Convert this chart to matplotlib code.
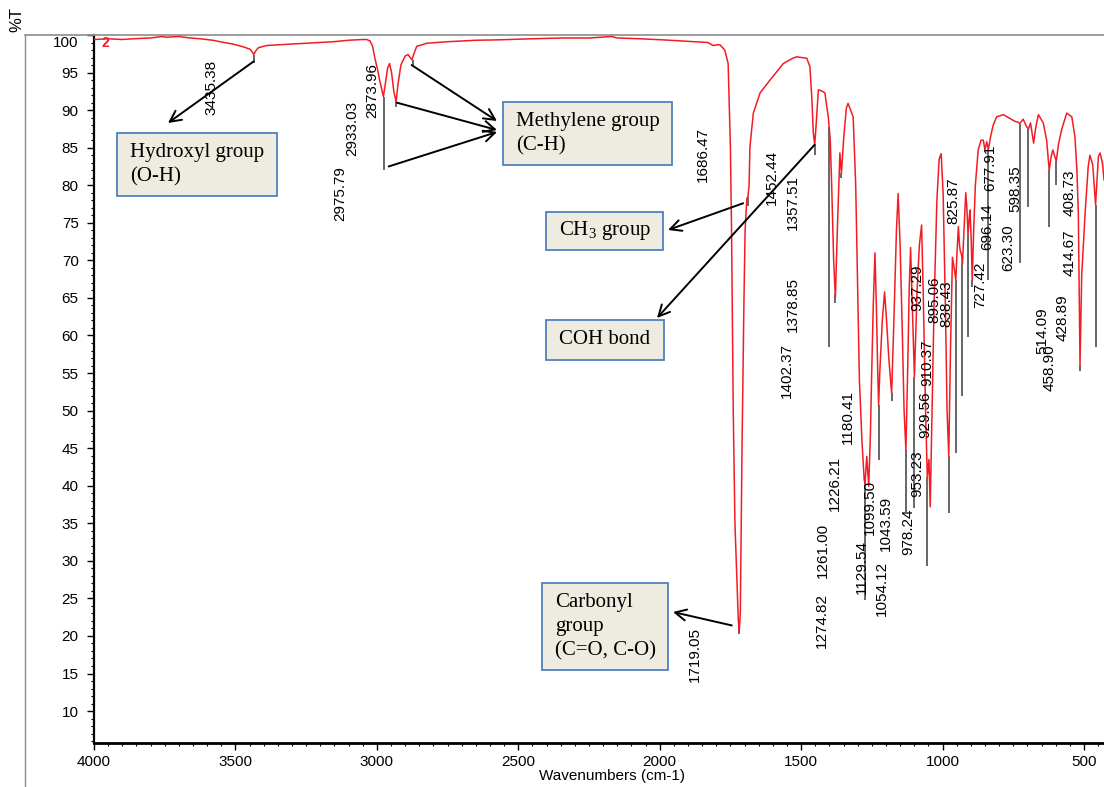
import numpy as np
import matplotlib
matplotlib.use('Agg')
import matplotlib.pyplot as plt
import matplotlib.transforms as mtransforms
from matplotlib.patches import Rectangle
from matplotlib.lines import Line2D
from matplotlib.ticker import MultipleLocator

plt.rcParams['font.family'] = ['Liberation Sans', 'DejaVu Sans']
plt.rcParams['mathtext.fontset'] = 'custom'
plt.rcParams['mathtext.rm'] = 'Liberation Serif'

# 1. SPECTRUM: wavenumber (cm-1) and %T
wavenumber = [4000, 3950, 3900, 3862, 3800, 3760, 3743, 3700, 3660, 3625, 3580, 3540,
              3509, 3470, 3448, 3440, 3435, 3428, 3419, 3400, 3389, 3300, 3200, 3155,
              3100, 3050, 3036, 3024, 3015, 3007, 2998, 2989, 2983, 2977, 2970, 2962,
              2955, 2948, 2940, 2932, 2925, 2915, 2900, 2890, 2882, 2876, 2868, 2859,
              2840, 2824, 2753, 2650, 2576, 2450, 2342, 2250, 2170, 2150, 2070, 1988,
              1920, 1869, 1830, 1811, 1795, 1787, 1770, 1758, 1750, 1746, 1740, 1734,
              1722, 1719, 1715, 1709, 1702, 1698, 1692, 1688, 1684, 1681, 1669, 1645,
              1610, 1563, 1530, 1516, 1480, 1469, 1462, 1457, 1452, 1447, 1439, 1430,
              1416, 1404, 1397, 1392, 1385, 1379, 1372, 1363, 1357.5, 1349, 1340, 1334,
              1325, 1316, 1307, 1300, 1294, 1285, 1277, 1274, 1268, 1261, 1255, 1251,
              1245, 1239, 1234, 1229, 1226, 1222, 1213, 1205, 1198, 1190, 1180, 1172,
              1163, 1157, 1150, 1142, 1136, 1129.5, 1123, 1118, 1113, 1107, 1099.5, 1090,
              1082, 1074, 1068, 1060, 1054, 1048, 1043.6, 1038, 1030, 1020, 1012, 1005,
              998, 990, 984, 978, 972, 965, 959, 953, 949, 944, 940, 937,
              933, 929.6, 924, 918, 914, 910, 906, 903, 899, 895, 890, 884,
              874, 864, 856, 850, 844, 838, 830, 821, 809, 785, 762, 744,
              733, 727, 715, 703, 696, 689, 678, 670, 661, 644, 632, 623,
              616, 610, 598, 590, 579, 561, 543, 532, 525, 520, 514, 508,
              496, 485, 479, 469, 459, 449, 443, 435, 429]
transmittance = [99.4, 99.5, 99.4, 99.5, 99.6, 99.8, 99.7, 99.8, 99.6, 99.5, 99.3, 99.0,
                 98.8, 98.4, 98.1, 97.7, 97.4, 97.9, 98.3, 98.5, 98.6, 98.8, 99.0, 99.1,
                 99.3, 99.4, 99.4, 99.2, 98.5, 96.9, 95.5, 93.8, 92.8, 91.8, 93.5, 95.6,
                 96.2, 95.0, 92.5, 91.1, 93.5, 96.0, 97.2, 97.4, 97.0, 96.7, 97.6, 98.5,
                 98.7, 98.9, 99.1, 99.3, 99.35, 99.5, 99.6, 99.6, 99.8, 99.6, 99.5, 99.35,
                 99.2, 99.1, 99.0, 98.6, 98.7, 98.7, 98.0, 96.2, 85.0, 74.0, 50.0, 35.0,
                 22.0, 20.6, 23.0, 45.0, 65.0, 74.0, 78.2, 78.5, 80.0, 85.1, 89.6, 92.3,
                 94.0, 96.2, 96.9, 97.1, 96.9, 95.8, 91.5, 87.0, 85.4, 88.0, 92.7, 92.6,
                 92.3, 89.1, 86.0, 80.0, 70.0, 65.0, 74.0, 84.3, 81.6, 86.5, 90.3, 90.9,
                 90.0, 89.1, 80.0, 66.0, 54.1, 46.0, 40.8, 40.3, 43.9, 39.9, 47.0, 54.1,
                 64.0, 71.0, 64.0, 55.0, 50.7, 55.0, 62.0, 65.8, 62.0, 57.0, 52.3, 62.0,
                 74.0, 78.9, 72.0, 60.0, 50.0, 44.7, 56.0, 66.0, 71.7, 64.0, 54.5, 66.0,
                 72.0, 74.7, 65.0, 50.0, 41.2, 43.5, 37.2, 48.0, 64.0, 78.0, 83.5, 84.2,
                 79.0, 64.0, 50.0, 43.9, 58.0, 70.4, 69.0, 67.4, 71.0, 74.5, 72.0, 71.2,
                 70.8, 69.6, 74.0, 79.0, 77.0, 73.4, 75.5, 76.7, 73.0, 67.4, 74.0, 80.0,
                 84.7, 86.0, 86.0, 84.7, 85.8, 84.8, 86.5, 88.0, 89.1, 89.4, 88.9, 88.5,
                 88.4, 88.2, 88.8, 87.8, 87.5, 88.3, 85.6, 87.8, 89.4, 88.3, 86.0, 82.0,
                 83.8, 84.7, 83.2, 85.5, 87.4, 89.6, 89.1, 86.5, 82.0, 76.3, 56.1, 68.0,
                 76.3, 82.5, 84.0, 82.7, 77.4, 83.8, 84.3, 83.0, 80.7]

# peak marker lines: wavenumber, top %T, bottom %T
marker_wn = [3435.38, 2975.79, 2933.03, 2873.96, 1719.05, 1686.47, 1452.44, 1402.37,
             1378.85, 1357.51, 1274.82, 1226.21, 1180.41, 1129.54, 1099.50, 1054.12,
             978.24, 953.23, 929.56, 910.37, 895.06, 838.43, 727.42, 696.14, 623.30,
             598.35, 514.09, 458.90]
marker_top = [97.4, 91.8, 91.1, 96.7, 21.0, 78.5, 85.4, 87.8, 65.5, 81.6, 40.4, 50.7,
              52.3, 44.7, 54.5, 41.2, 43.9, 67.4, 69.6, 73.4, 67.4, 84.8, 88.2, 87.5,
              82.0, 83.2, 56.1, 77.4]
marker_bottom = [96.3, 82.0, 90.4, 96.0, 20.2, 77.3, 84.0, 58.5, 64.3, 81.0, 24.8, 43.4,
                 51.3, 36.5, 37.0, 29.3, 36.4, 44.4, 52.0, 59.8, 66.5, 67.4, 69.6, 77.1,
                 74.5, 80.0, 55.3, 58.5]

# peak label texts and where they sit on the picture (pixel centre)
peak_labels = ['3435.38', '2975.79', '2933.03', '2873.96', '1686.47', '1452.44', '1357.51',
               '1378.85', '1402.37', '1180.41', '1226.21', '1261.00', '1274.82', '1129.54',
               '1099.50', '1054.12', '1043.59', '978.24', '953.23', '929.56', '937.29',
               '910.37', '895.06', '838.43', '825.87', '727.42', '696.14', '677.91',
               '623.30', '598.35', '514.09', '458.90', '428.89', '414.67', '408.73',
               '1719.05']
label_px = [(211, 87), (340, 194), (352, 128), (372, 90), (703, 155), (772, 177), (793, 202),
            (793, 304), (787, 370), (848, 417), (835, 483), (823, 550), (822, 620), (862, 567),
            (870, 507), (882, 588), (886, 523), (908, 532), (917, 474), (925, 415), (917, 288),
            (927, 363), (934, 300), (946, 304), (953, 201), (980, 285), (987, 227), (990, 168),
            (1008, 248), (1015, 189), (1042, 331), (1050, 368), (1063, 318), (1070, 253),
            (1070, 193), (695, 654)]

# group annotation boxes: text, box (x, y, w, h) in pixels, arrow heads and tails
box_texts = ['Hydroxyl group\n(O-H)', 'Methylene group\n(C-H)', 'CH$_3$ group',
             'COH bond', 'Carbonyl\ngroup\n(C=O, C-O)']
box_px = [(117, 133, 160, 63), (503, 102, 169, 63), (546, 212, 117, 38),
          (546, 320, 118, 40), (542, 583, 126, 87)]
arrows = [((168, 123), (3435, 96.5)),
          ((497, 121), (2877, 96.0)),
          ((497, 130), (2930, 91.0)),
          ((497, 132), (2958, 82.5)),
          ((668, 230), (1705, 77.6)),
          ((657, 318), (1452, 85.4)),
          ((673, 612), (1745, 21.4))]

# 2. FIGURE
W, H = 1104, 787
fig = plt.figure(figsize=(W / 100, H / 100), dpi=100)
px = mtransforms.Affine2D().scale(1 / W, -1 / H).translate(0, 1) + fig.transFigure

ax = fig.add_axes([94 / W, 1 - 743 / H, 1 - 94 / W, (743 - 35) / H])
ax.plot(wavenumber, transmittance, color='#f21d24', lw=1.1, zorder=3)
ax.vlines(marker_wn, marker_bottom, marker_top, color='#666666', lw=1.4, zorder=2)

ax.set_xlim(4000, 429.2)
ax.set_ylim(5.75, 100)
ax.set_xticks(np.arange(4000, 499, -500))
ax.xaxis.set_minor_locator(MultipleLocator(50))
yt = np.arange(10, 101, 5)
ax.set_yticks(yt, labels=[str(v) if v < 100 else '' for v in yt])
ax.yaxis.set_minor_locator(MultipleLocator(1))
ax.tick_params(which='major', direction='out', length=5, width=1, labelsize=11, pad=4)
ax.tick_params(axis='y', which='major', pad=6)
ax.tick_params(which='minor', direction='out', length=2.5, width=0.8)

ax.spines['right'].set_visible(False)
ax.spines['top'].set_color('#8c8c8c')
ax.spines['top'].set_linewidth(1.2)
ax.spines['left'].set_linewidth(1.6)
ax.spines['bottom'].set_linewidth(2.0)

# outer frame pieces and axis titles
fig.add_artist(Line2D([25, 94], [35, 35], transform=px, color='#8c8c8c', lw=1.2))
fig.add_artist(Line2D([25, 25], [35, 787], transform=px, color='#8c8c8c', lw=1.0))
fig.text(78, 43, '100', transform=px, ha='right', va='center', fontsize=11)
fig.text(17, 19, '%T', transform=px, rotation=90, ha='center', va='center', fontsize=12)
fig.text(612, 776, 'Wavenumbers (cm-1)', transform=px, ha='center', va='center', fontsize=11)
fig.text(105, 43, '2', transform=px, color='#f21d24', ha='center', va='center',
         fontsize=10, fontweight='bold')

# 3. PEAK LABELS
for lab, (x, y) in zip(peak_labels, label_px):
    fig.text(x, y, lab, transform=px, rotation=90, ha='center', va='center', fontsize=11)

# 4. GROUP BOXES AND ARROWS
for txt, (x, y, w, h) in zip(box_texts, box_px):
    fig.add_artist(Rectangle((x, y), w, h, transform=px, facecolor='#eeece1',
                             edgecolor='#4f81bd', lw=1.3))
    fig.text(x + 13, y + h / 2, txt, transform=px, ha='left', va='center',
             fontsize=15, family='Liberation Serif', linespacing=1.35)

for head, tail in arrows:
    ax.annotate('', xy=head, xycoords=px, xytext=tail, textcoords='data',
                arrowprops=dict(arrowstyle='->', color='black', lw=1.4,
                                shrinkA=0, shrinkB=0, mutation_scale=20),
                annotation_clip=False, zorder=5)

fig.savefig('out.png', dpi=100)
